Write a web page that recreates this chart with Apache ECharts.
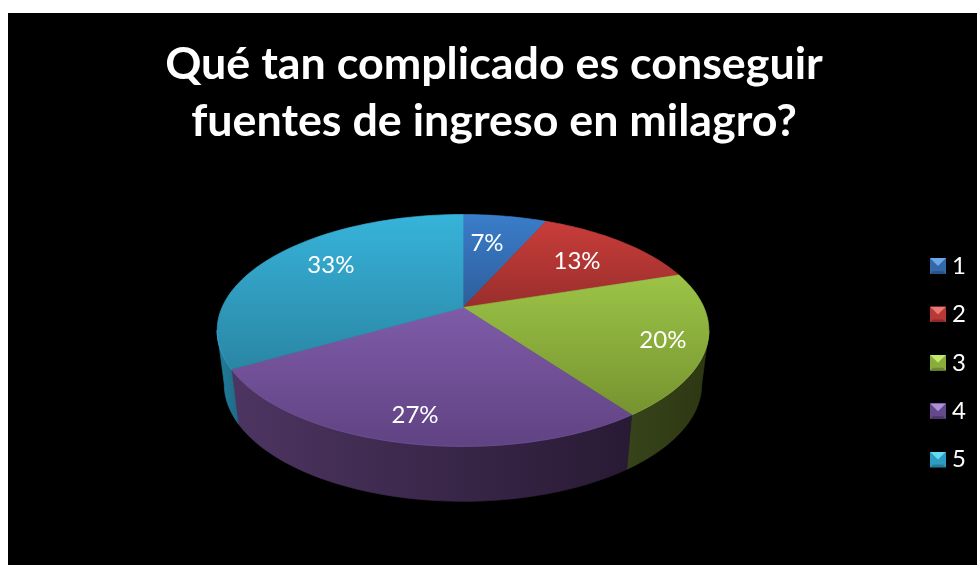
<!DOCTYPE html>
<html>
<head>
<meta charset="utf-8">
<style>html,body{margin:0;padding:0;background:#fff}#c{width:977px;height:565px}</style>
<script src="https://cdn.jsdelivr.net/npm/echarts@6/dist/echarts.min.js"></script>
</head>
<body>
<div id="c"></div>
<script>
const titleText = 'Qué tan complicado es conseguir\nfuentes de ingreso en milagro?';
const categories = ['1', '2', '3', '4', '5'];
const sharePercent = [6.67, 13.33, 20, 26.67, 33.33];

const faceTop = ['#3a7dca', '#c93d3a', '#9cc447', '#7f5ba8', '#37b3da'];
const faceBottom = ['#2d5e9a', '#992e2c', '#76932f', '#604383', '#2a86a4'];
const wallLeft = ['#2d5e9a', '#7a2523', '#37441a', '#4d3561', '#1f7f9c'];
const wallRight = ['#2d5e9a', '#7a2523', '#2d3712', '#281a34', '#216a86'];
const legendLight = ['#6fa8ea', '#ea7a76', '#c4e870', '#b090d8', '#62dcf6'];
const legendMid = ['#3568a8', '#b83836', '#8aac3c', '#644a8c', '#2e9cc0'];
const legendDark = ['#28528a', '#8c2a28', '#6c8830', '#4a3668', '#227c98'];
const labelRadius = [0.658, 0.684, 0.832, 0.83, 0.719];
const labelAngle = [9.84, 48.9, 109.7, 191.6, 304.5];

// perspective projection of the pie disc
const CX = 463, CY_TOP = 307.5, CY_BOTTOM = 361;
const RX_TOP = 241, RY_TOP = 111.4, RX_BOTTOM = 234, RY_BOTTOM = 112.5, P = 0.198;
const SIL_A = 101.4, SIL_B = 258.6;

function project(deg, r, level) {
  const t = deg * Math.PI / 180;
  const u = r * Math.sin(t), v = r * Math.cos(t);
  const w = 1 + P * v;
  return level === 0
    ? [CX + RX_TOP * u / w, CY_TOP - RY_TOP * v / w]
    : [CX + RX_BOTTOM * u / w, CY_BOTTOM - RY_BOTTOM * v / w];
}
function arc(a, b, level) {
  const pts = [];
  const n = Math.max(2, Math.ceil(Math.abs(b - a) / 1.5));
  for (let i = 0; i <= n; i++) pts.push(project(a + (b - a) * i / n, 1, level));
  return pts;
}
const total = sharePercent.reduce((s, x) => s + x, 0);

function renderSlice(i) {
  return function (params, api) {
    const value = api.value(0);
    const before = sharePercent.slice(0, i).reduce((s, x) => s + x, 0);
    const a0 = before / total * 360, a1 = a0 + value / total * 360;
    const children = [];
    const wa = Math.max(a0, SIL_A), wb = Math.min(a1, SIL_B);
    if (wb > wa) {
      const wall = arc(wa, wb, 0).concat(arc(wb, wa, 1));
      const wallFill = new echarts.graphic.LinearGradient(0, 0, 1, 0, [
        { offset: 0, color: wallLeft[i] }, { offset: 1, color: wallRight[i] }
      ]);
      children.push({
        type: 'polygon', shape: { points: wall },
        style: { fill: wallFill, stroke: wallFill, lineWidth: 0.7, lineJoin: 'round' }
      });
    }
    const top = [[CX, CY_TOP]].concat(arc(a0, a1, 0));
    const topFill = new echarts.graphic.LinearGradient(0, 0, 0, 1, [
      { offset: 0, color: faceTop[i] }, { offset: 1, color: faceBottom[i] }
    ]);
    children.push({
      type: 'polygon', shape: { points: top },
      style: { fill: topFill, stroke: topFill, lineWidth: 0.7, lineJoin: 'round' }
    });
    if (wb > wa) {
      children.push({
        type: 'polyline', shape: { points: arc(wa, wb, 0) },
        style: { fill: 'none', stroke: faceTop[i], lineWidth: 1, opacity: 0.45 }
      });
    }
    const lp = project(labelAngle[i], labelRadius[i], 0);
    children.push({
      type: 'text', z2: 50, x: lp[0], y: lp[1],
      style: {
        text: Math.round(value) + '%', fill: '#fff', align: 'center', verticalAlign: 'middle',
        font: '24px Lato'
      }
    });
    return { type: 'group', children };
  };
}

function legendIcon(i) {
  const svg = "<svg xmlns='http://www.w3.org/2000/svg' width='16' height='16'>" +
    "<rect width='16' height='16' fill='" + legendMid[i] + "'/>" +
    "<polygon points='0,0 16,0 8,8' fill='" + legendLight[i] + "'/>" +
    "<polygon points='0,16 16,16 13,13 3,13' fill='" + legendDark[i] + "'/>" +
    "</svg>";
  return 'image://data:image/svg+xml,' + encodeURIComponent(svg);
}

const chart = echarts.init(document.getElementById('c'));
chart.setOption({
  animation: false,
  backgroundColor: '#ffffff',
  graphic: [{
    type: 'rect', z: -10, silent: true,
    shape: { x: 8, y: 13, width: 969, height: 552 },
    style: { fill: '#000' }
  }],
  title: {
    text: titleText, left: 489, top: 31, textAlign: 'center',
    textStyle: { color: '#fff', fontFamily: 'Lato', fontWeight: 'bold', fontSize: 44.8, lineHeight: 57 }
  },
  legend: {
    orient: 'vertical', left: 930, top: 254, padding: 0,
    itemWidth: 16, itemHeight: 16, itemGap: 24.4,
    data: categories.map((c, i) => ({ name: c, icon: legendIcon(i) })),
    textStyle: { color: '#fff', fontFamily: 'Lato', fontSize: 24, padding: [0, 0, 0, 1] }
  },
  series: categories.map((c, i) => ({
    type: 'custom', name: c, coordinateSystem: 'none',
    renderItem: renderSlice(i),
    data: [[sharePercent[i]]],
    itemStyle: { color: legendMid[i] },
    clip: false
  }))
});
</script>
</body>
</html>
